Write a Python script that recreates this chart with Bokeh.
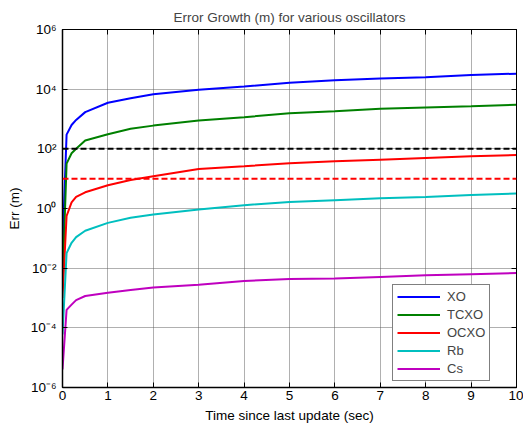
from bokeh.plotting import figure
from bokeh.models import (LogAxis, LinearAxis, FixedTicker, Range1d, Span,
                          Legend, LegendItem)
from bokeh.embed import file_html
from bokeh.resources import INLINE

# ---- data ----
t = [0, 0.09, 0.2, 0.3, 0.5, 1, 1.5, 2, 3, 4, 5, 6, 7, 8, 9, 10]
xo = [5e-2, 3.0e2, 6.3e2, 9.3e2, 1.7e3, 3.5e3, 5.0e3, 6.8e3, 9.5e3,
      1.23e4, 1.65e4, 2.0e4, 2.26e4, 2.5e4, 3.0e4, 3.3e4]
tcxo = [3e-3, 32, 71, 100, 190, 310, 470, 600, 890, 1150, 1550, 1820,
        2190, 2450, 2690, 3020]
ocxo = [1e-3, 0.56, 1.6, 2.45, 3.5, 6.0, 9.0, 12, 21, 26, 33, 38, 43, 49,
        56, 62]
rb = [6e-5, 0.032, 0.071, 0.11, 0.18, 0.33, 0.49, 0.63, 0.93, 1.29, 1.66,
      1.9, 2.19, 2.45, 2.82, 3.16]
cs = [4e-6, 4.0e-4, 6.0e-4, 8.5e-4, 1.17e-3, 1.5e-3, 1.86e-3, 2.24e-3,
      2.8e-3, 3.7e-3, 4.3e-3, 4.5e-3, 5.1e-3, 5.75e-3, 6.3e-3, 6.9e-3]
series_names = ["XO", "TCXO", "OCXO", "Rb", "Cs"]
series_colors = ["#0000FF", "#008000", "#FF0000", "#00BFBF", "#BF00BF"]
thresholds = [100, 10]
threshold_colors = ["#000000", "#FF0000"]

x_ticks = [0, 1, 2, 3, 4, 5, 6, 7, 8, 9, 10]
y_ticks = [1e-6, 1e-4, 1e-2, 1e0, 1e2, 1e4, 1e6]
y_tick_labels = ["10\u207b\u2076", "10\u207b\u2074", "10\u207b\u00b2",
                 "10\u2070", "10\u00b2", "10\u2074", "10\u2076"]

FONT = "Liberation Sans"
FS = "13.5px"

p = figure(width=523, height=425, x_range=Range1d(0, 10),
           y_range=Range1d(1e-6, 1e6), y_axis_type="log",
           output_backend="svg", toolbar_location=None,
           min_border_left=62, min_border_right=7, min_border_top=29,
           min_border_bottom=37)
p.background_fill_color = "white"
p.border_fill_color = "white"
p.outline_line_color = "black"
p.outline_line_width = 1

p.title.text = "Error Growth (m) for various oscillators"
p.title.align = "center"
p.title.text_font = FONT
p.title.text_font_style = "normal"
p.title.text_font_size = FS
p.title.standoff = 9

xt = FixedTicker(ticks=x_ticks)
yt = FixedTicker(ticks=y_ticks)

xa = p.xaxis[0]
xa.ticker = xt
xa.axis_label = "Time since last update (sec)"
ya = p.yaxis[0]
ya.ticker = yt
ya.axis_label = "Err (m)"
ya.major_label_overrides = {v: lab for v, lab in zip(y_ticks, y_tick_labels)}

for ax in (xa, ya):
    ax.major_tick_in = 5
    ax.major_tick_out = 0
    ax.minor_tick_line_color = None
    ax.axis_line_color = "black"
    ax.axis_line_width = 1.5
    ax.major_tick_line_color = "black"
    ax.major_label_text_font = FONT
    ax.major_label_text_font_size = FS
    ax.major_label_text_color = "black"
    ax.axis_label_text_font = FONT
    ax.axis_label_text_font_size = FS
    ax.axis_label_text_font_style = "normal"
    ax.axis_label_text_color = "black"
xa.major_label_standoff = 3
ya.major_label_standoff = 6
ya.axis_label_standoff = 6
xa.axis_label_standoff = 5

top = LinearAxis(ticker=xt, major_tick_in=5, major_tick_out=0,
                 major_label_text_font_size="1px",
                 major_label_text_color=None, minor_tick_line_color=None,
                 major_label_standoff=0)
right = LogAxis(ticker=yt, major_tick_in=5, major_tick_out=0,
                major_label_text_font_size="1px",
                major_label_text_color=None, minor_tick_line_color=None,
                major_label_standoff=0)
p.add_layout(top, "above")
p.add_layout(right, "right")

for g, tk in ((p.xgrid[0], xt), (p.ygrid[0], yt)):
    g.ticker = tk
    g.grid_line_color = "#606060"
    g.grid_line_dash = "1 1"
    g.grid_line_width = 1

data = [xo, tcxo, ocxo, rb, cs]
items = []
for name, col, vals in zip(series_names, series_colors, data):
    r = p.line(t, vals, line_color=col, line_width=2)
    items.append(LegendItem(label=name, renderers=[r]))

for v, c in zip(thresholds, threshold_colors):
    p.add_layout(Span(location=v, dimension="width", line_color=c,
                      line_width=2, line_dash="6 3"))

legend = Legend(items=items, location=(330, 6))
legend.border_line_color = "black"
legend.border_line_width = 1.5
legend.background_fill_color = "white"
legend.background_fill_alpha = 1
legend.label_text_font = FONT
legend.label_text_font_size = "13px"
legend.glyph_width = 43
legend.glyph_height = 15
legend.label_height = 15
legend.spacing = 3
legend.padding = 4
legend.margin = 0
legend.label_standoff = 7
p.add_layout(legend, "center")

open("out.html", "w").write(file_html(p, INLINE))
